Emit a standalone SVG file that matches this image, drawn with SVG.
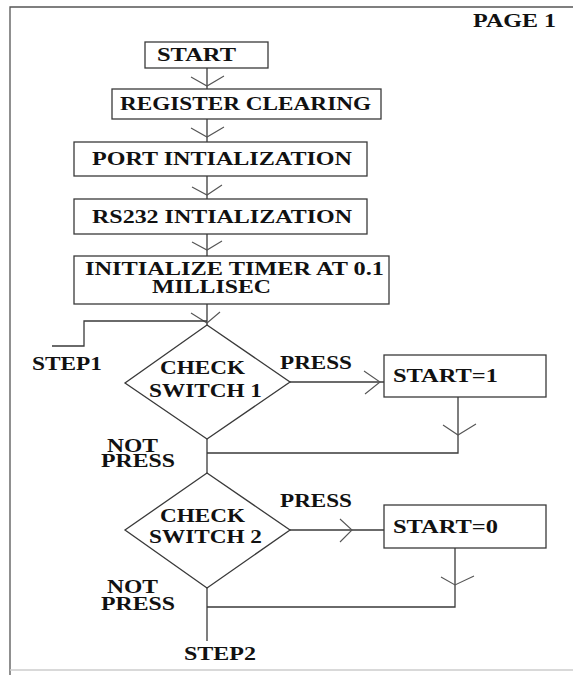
<svg xmlns="http://www.w3.org/2000/svg" width="573" height="675" viewBox="0 0 573 675">
<style>
  .box { fill: #ffffff; stroke: #3a3a3a; stroke-width: 1.3; }
  .ln { fill: none; stroke: #3a3a3a; stroke-width: 1.3; }
  .ah { fill: none; stroke: #555555; stroke-width: 1.1; }
  .frame { fill: none; stroke: #555555; stroke-width: 1.3; }
  .t { font-family: "Liberation Serif", "Times New Roman", serif; font-weight: bold; fill: #111111; font-size: 18px; }
</style>
<rect width="573" height="675" fill="#ffffff"/>
<g id="frame">
  <polyline class="frame" points="573,7 10,7 10,675"/>
  <line x1="10" y1="670" x2="573" y2="670" stroke="#cccccc" stroke-width="1.3"/>
  <text class="t" x="473" y="27" font-size="17" textLength="83" lengthAdjust="spacingAndGlyphs">PAGE 1</text>
</g>
<g id="connectors">
  <line class="ln" x1="207" y1="68" x2="207" y2="89"/>
  <polyline class="ah" points="191,77 207,86 224,76"/>
  <line class="ln" x1="207" y1="119" x2="207" y2="142"/>
  <polyline class="ah" points="191,128 207,137 224,127"/>
  <line class="ln" x1="207" y1="176" x2="207" y2="199"/>
  <polyline class="ah" points="192,187 207,195 222,185"/>
  <line class="ln" x1="207" y1="234" x2="207" y2="256"/>
  <polyline class="ah" points="192,242 207,250 222,241"/>
  <line class="ln" x1="207" y1="304" x2="207" y2="325"/>
  <polyline class="ah" points="191,313 207,323 220,312"/>
  <polyline class="ln" points="52,346 84,346 84,321 207,321"/>
  <line class="ln" x1="290" y1="382" x2="384" y2="382"/>
  <polyline class="ah" points="364,371 380,382 365,394"/>
  <polyline class="ln" points="458,397 458,453 207,453"/>
  <polyline class="ah" points="443,425 458,435 476,424"/>
  <line class="ln" x1="207" y1="439" x2="207" y2="473"/>
  <line class="ln" x1="290" y1="530" x2="384" y2="530"/>
  <polyline class="ah" points="340,519 352,530 340,542"/>
  <polyline class="ln" points="455,548 455,607 207,607"/>
  <polyline class="ah" points="441,577 455,585 474,576"/>
  <line class="ln" x1="207" y1="588" x2="207" y2="641"/>
</g>
<g id="start">
  <rect class="box" x="145" y="42" width="123" height="26"/>
  <text class="t" x="157" y="61" textLength="79" lengthAdjust="spacingAndGlyphs">START</text>
</g>
<g id="register-clearing">
  <rect class="box" x="112" y="89" width="269" height="30"/>
  <text class="t" x="120" y="110" font-size="19" textLength="251" lengthAdjust="spacingAndGlyphs">REGISTER CLEARING</text>
</g>
<g id="port-init">
  <rect class="box" x="74" y="142" width="293" height="34"/>
  <text class="t" x="92" y="165" textLength="260" lengthAdjust="spacingAndGlyphs">PORT INTIALIZATION</text>
</g>
<g id="rs232-init">
  <rect class="box" x="74" y="199" width="293" height="35"/>
  <text class="t" x="92" y="223" font-size="19" textLength="260" lengthAdjust="spacingAndGlyphs">RS232 INTIALIZATION</text>
</g>
<g id="timer-init">
  <rect class="box" x="74" y="256" width="315" height="48"/>
  <text class="t" x="85" y="275" font-size="17" textLength="299" lengthAdjust="spacingAndGlyphs">INITIALIZE TIMER AT 0.1</text>
  <text class="t" x="152" y="293" font-size="17" textLength="119" lengthAdjust="spacingAndGlyphs">MILLISEC</text>
</g>
<g id="step1">
  <text class="t" x="32" y="370" font-size="17" textLength="70" lengthAdjust="spacingAndGlyphs">STEP1</text>
</g>
<g id="check-switch-1">
  <polygon class="box" points="207,325 290,382 207,439 125,383"/>
  <text class="t" x="160" y="374" font-size="17" textLength="85" lengthAdjust="spacingAndGlyphs">CHECK</text>
  <text class="t" x="149" y="397" textLength="113" lengthAdjust="spacingAndGlyphs">SWITCH 1</text>
  <text class="t" x="280" y="369" textLength="72" lengthAdjust="spacingAndGlyphs">PRESS</text>
  <text class="t" x="107" y="452" font-size="15.5" textLength="51" lengthAdjust="spacingAndGlyphs">NOT</text>
  <text class="t" x="101" y="467" font-size="15.5" textLength="74" lengthAdjust="spacingAndGlyphs">PRESS</text>
</g>
<g id="start-1">
  <rect class="box" x="384" y="355" width="162" height="42"/>
  <text class="t" x="393" y="382" font-size="17" textLength="105" lengthAdjust="spacingAndGlyphs">START=1</text>
</g>
<g id="check-switch-2">
  <polygon class="box" points="207,473 290,530 207,588 125,530"/>
  <text class="t" x="160" y="522" font-size="17" textLength="85" lengthAdjust="spacingAndGlyphs">CHECK</text>
  <text class="t" x="149" y="543" textLength="113" lengthAdjust="spacingAndGlyphs">SWITCH 2</text>
  <text class="t" x="280" y="507" textLength="72" lengthAdjust="spacingAndGlyphs">PRESS</text>
  <text class="t" x="107" y="593" font-size="16" textLength="51" lengthAdjust="spacingAndGlyphs">NOT</text>
  <text class="t" x="101" y="610" font-size="16" textLength="74" lengthAdjust="spacingAndGlyphs">PRESS</text>
</g>
<g id="start-0">
  <rect class="box" x="384" y="505" width="162" height="43"/>
  <text class="t" x="393" y="533" font-size="17" textLength="105" lengthAdjust="spacingAndGlyphs">START=0</text>
</g>
<g id="step2">
  <text class="t" x="184" y="660" font-size="17" textLength="72" lengthAdjust="spacingAndGlyphs">STEP2</text>
</g>
</svg>
